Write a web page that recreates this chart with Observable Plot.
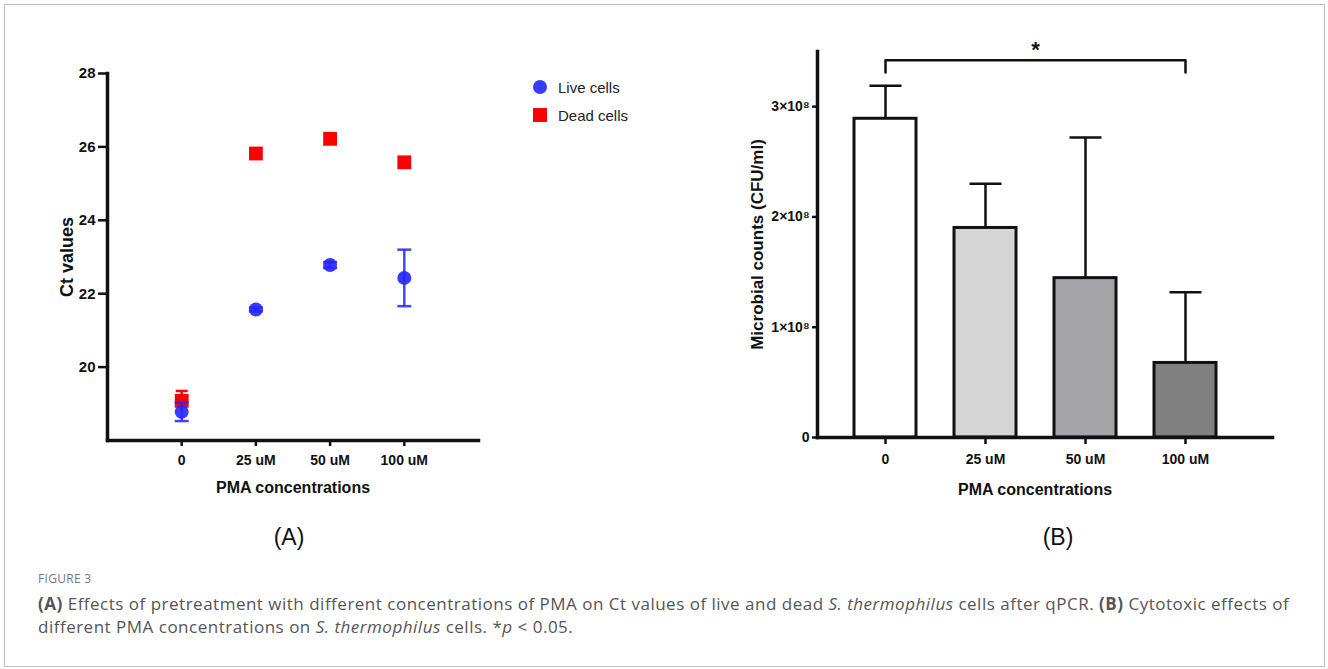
<!DOCTYPE html>
<html>
<head>
<meta charset="utf-8">
<script src="https://cdn.jsdelivr.net/npm/d3@7"></script>
<script src="https://cdn.jsdelivr.net/npm/@observablehq/plot@0.6"></script>
<style>
  body { margin: 0; background: #fff; }
  #root { position: relative; width: 1328px; height: 669px; background: #fff; overflow: hidden; font-family: "Liberation Sans", Arial, sans-serif; }
  #frame { position: absolute; left: 4px; top: 4px; width: 1319px; height: 661px; border: 1px solid #bdbdbd; }
  .panel { position: absolute; top: 0; }
  .legend { position: absolute; left: 532px; top: 73px; font-size: 15px; color: #222; }
  .legend div { height: 28px; display: flex; align-items: center; }
  .legend svg { margin-right: 10px; }
  .plabel { position: absolute; font-size: 23px; color: #111; transform: translateX(-50%); }
  #caption { position: absolute; left: 38px; top: 570px; color: #555; font-family: "Open Sans", "Noto Sans", sans-serif; }
  #caption .fig { font-size: 12px; color: #777; letter-spacing: 0.3px; margin-bottom: 5px; }
  #caption .txt { font-size: 17px; letter-spacing: 0.5px; line-height: 23px; white-space: nowrap; }
</style>
</head>
<body>
<div id="root">
  <div id="frame"></div>
  <div id="A" class="panel" style="left:0"></div>
  <div id="B" class="panel" style="left:660px"></div>
  <div class="legend">
    <div><svg width="16" height="16"><circle cx="8" cy="8" r="7" fill="#2525ff" fill-opacity="0.9"/></svg>Live cells</div>
    <div><svg width="16" height="16"><rect x="1" y="1" width="14" height="14" fill="#ff0000"/></svg>Dead cells</div>
  </div>
  <div class="plabel" style="left:289px; top:524px">(A)</div>
  <div class="plabel" style="left:1058px; top:524px">(B)</div>
  <div id="caption">
    <div class="fig">FIGURE 3</div>
    <div class="txt"><b>(A)</b> Effects of pretreatment with different concentrations of PMA on Ct values of live and dead <i>S. thermophilus</i> cells after qPCR. <b>(B)</b> Cytotoxic effects of<br>different PMA concentrations on <i>S. thermophilus</i> cells. *<i>p</i> &lt; 0.05.</div>
  </div>
</div>
<script>
// ---- Data ----
const concentrations = ["0", "25 uM", "50 uM", "100 uM"];
const liveCt = [18.78, 21.57, 22.78, 22.43];
const liveErr = [0.25, 0.05, 0.08, 0.77];
const deadCt = [19.08, 25.82, 26.22, 25.58];
const deadErr = [0.27, 0.05, 0.05, 0.05];
const ctTicks = [20, 22, 24, 26, 28];

const counts = [2.89e8, 1.90e8, 1.445e8, 0.676e8];
const countsErr = [0.30e8, 0.40e8, 1.275e8, 0.64e8];
const barFills = ["#ffffff", "#d5d5d5", "#a4a4a8", "#808080"];
const countTicks = [0, 1e8, 2e8, 3e8];
const countTickLabels = ["0", "1×10⁸", "2×10⁸", "3×10⁸"];
const sigPair = ["0", "100 uM"];
const sigLevel = 3.42e8;
const sigDrop = 3.31e8;

// ---- helpers ----
const capSymbol = {
  draw(context, size) {
    const w = Math.sqrt(size / Math.PI);
    context.moveTo(-w, 0);
    context.lineTo(w, 0);
  }
};

const live = concentrations.map((c, i) => ({i, v: liveCt[i], e: liveErr[i]}));
const dead = concentrations.map((c, i) => ({i, v: deadCt[i], e: deadErr[i]}));
const bars = concentrations.map((c, i) => ({c, v: counts[i], e: countsErr[i], fill: barFills[i]}));

const sans = "'Liberation Sans', Arial, sans-serif";
const red = "#ff0000", blue = "#2525ff";

// ---- Panel A ----
const plotA = Plot.plot({
  width: 660, height: 510,
  marginLeft: 107, marginRight: 182, marginTop: 73, marginBottom: 70,
  x: {type: "linear", domain: [-1, 4]},
  y: {domain: [18, 28]},
  style: {fontFamily: sans, color: "#111", background: "transparent", overflow: "visible"},
  marks: [
    Plot.axisY({ticks: ctTicks, tickSize: 9, tickPadding: 3, fontSize: 15, fontWeight: "bold", strokeWidth: 2.5, label: null}),
    Plot.axisX({ticks: [0, 1, 2, 3], tickFormat: i => concentrations[i], tickSize: 6, tickPadding: 9, fontSize: 14, fontWeight: "bold", strokeWidth: 2.5, label: null}),
    Plot.frame({anchor: "left", strokeWidth: 3.5, stroke: "#111"}),
    Plot.frame({anchor: "bottom", strokeWidth: 3.5, stroke: "#111"}),
    // dead cells
    Plot.ruleX(dead, {x: "i", y1: d => d.v - d.e, y2: d => d.v + d.e, stroke: red, strokeWidth: 2.5}),
    Plot.dot(dead, {x: "i", y: d => d.v + d.e, symbol: capSymbol, r: 6, stroke: red, strokeWidth: 2.5}),
    Plot.dot(dead, {x: "i", y: "v", symbol: "square", r: 7.8, fill: red}),
    // live cells
    Plot.dot(live, {x: "i", y: "v", r: 7, fill: blue, fillOpacity: 0.9}),
    Plot.ruleX(live, {x: "i", y1: d => d.v - d.e, y2: d => d.v + d.e, stroke: blue, strokeWidth: 2.5, strokeOpacity: 0.85}),
    Plot.dot(live, {x: "i", y: d => d.v + d.e, symbol: capSymbol, r: 7, stroke: blue, strokeWidth: 2.5, strokeOpacity: 0.85}),
    Plot.dot(live, {x: "i", y: d => d.v - d.e, symbol: capSymbol, r: 7, stroke: blue, strokeWidth: 2.5, strokeOpacity: 0.85}),
    // axis titles
    Plot.text(["Ct values"], {frameAnchor: "left", textAnchor: "middle", dx: -40, rotate: -90, fontSize: 18, fontWeight: "bold", fill: "#111"}),
    Plot.text(["PMA concentrations"], {frameAnchor: "bottom", textAnchor: "middle", dy: 52, fontSize: 16, fontWeight: "bold", fill: "#111"})
  ]
});
document.getElementById("A").appendChild(plotA);

// ---- Panel B ----
const plotB = Plot.plot({
  width: 668, height: 510,
  marginLeft: 157, marginRight: 56, marginTop: 51, marginBottom: 73,
  x: {type: "band", domain: concentrations, range: [194, 556], paddingInner: 0.38, paddingOuter: 0, align: 0.5},
  y: {domain: [0, 3.5e8]},
  style: {fontFamily: sans, color: "#111", background: "transparent", overflow: "visible"},
  marks: [
    Plot.barY(bars, {x: "c", y: "v", fill: "fill", stroke: "#111", strokeWidth: 3}),
    Plot.ruleX(bars, {x: "c", y1: "v", y2: d => d.v + d.e, stroke: "#111", strokeWidth: 2.5}),
    Plot.dot(bars, {x: "c", y: d => d.v + d.e, symbol: capSymbol, r: 16, stroke: "#111", strokeWidth: 2.5}),
    Plot.axisY({ticks: countTicks, tickFormat: d => countTickLabels[countTicks.indexOf(d)], tickSize: 5, tickPadding: 3, fontSize: 14, fontWeight: "bold", strokeWidth: 2.5, label: null}),
    Plot.axisX({tickSize: 7, tickPadding: 10, fontSize: 14, fontWeight: "bold", strokeWidth: 2.5, label: null}),
    Plot.frame({anchor: "left", strokeWidth: 3.5, stroke: "#111"}),
    Plot.frame({anchor: "bottom", strokeWidth: 3.5, stroke: "#111"}),
    // significance bracket
    Plot.line([
      {c: sigPair[0], v: sigDrop}, {c: sigPair[0], v: sigLevel},
      {c: sigPair[1], v: sigLevel}, {c: sigPair[1], v: sigDrop}
    ], {x: "c", y: "v", stroke: "#111", strokeWidth: 2.5}),
    Plot.text(["*"], {x: () => concentrations[1], y: () => sigLevel, dx: 50, dy: -10, fontSize: 22, fontWeight: "bold", fill: "#111"}),
    // axis titles
    Plot.text(["Microbial counts (CFU/ml)"], {frameAnchor: "left", textAnchor: "middle", dx: -60, rotate: -90, fontSize: 17, fontWeight: "bold", fill: "#111"}),
    Plot.text(["PMA concentrations"], {frameAnchor: "bottom", textAnchor: "middle", dy: 57, dx: -10, fontSize: 16, fontWeight: "bold", fill: "#111"})
  ]
});
document.getElementById("B").appendChild(plotB);
</script>
</body>
</html>
